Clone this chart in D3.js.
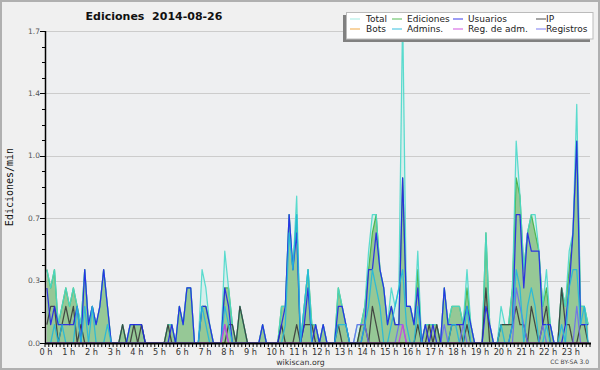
<!DOCTYPE html>
<html>
<head>
<meta charset="utf-8">
<script src="https://cdn.jsdelivr.net/npm/d3@7/dist/d3.min.js"></script>
<style>
  body { margin: 0; background: #f0f0f0; }
  svg { display: block; }
</style>
</head>
<body>
<script>
// Edits per minute, one value per 10-minute slot (6 per hour, 24 hours)
const hourLabels = d3.range(24).map(h => h + ' h');
const yTickValues = [0, 0.34, 0.68, 1.02, 1.36, 1.7];
const yTickLabels = ['0.0', '0.3', '0.7', '1.0', '1.4', '1.7'];

const total = [
  .4,.3,.4,.1,.2,.3,  .2,.3,.2,.1,.4,.1,  .2,.1,.2,.4,.2,0,   0,0,.1,0,.1,.1,
  .1,.1,0,0,0,0,      0,0,.1,.1,0,.2,     .1,.3,.3,0,0,.4,    .3,.1,0,0,0,.5,
  .3,.1,0,.2,.1,0,    0,0,0,.1,0,0,       0,0,.2,.2,.7,.4,    .8,0,.2,.4,.1,.1,
  0,.1,0,0,0,.3,      .2,.1,0,0,.1,.1,    .2,.5,.7,.7,.4,.3,  .1,.3,.2,.3,1.8,.2,
  .2,.1,.5,0,.1,.1,   .1,.1,0,.3,.1,.2,   .2,.2,.1,.4,.1,0,   0,0,.6,.1,0,0,
  .2,.1,.1,.3,1.1,.8, .4,.6,.7,.7,.5,.2,  .4,.1,0,0,.3,.2,    .5,.6,1.3,.2,.2,.1
];
const ediciones = [
  .4,.3,.4,.1,.2,.3,  .2,.3,.2,.1,.4,.1,  .2,.1,.2,.4,.2,0,   0,0,.1,0,.1,.1,
  .1,.1,0,0,0,0,      0,0,.1,.1,0,.2,     .1,.3,.3,0,0,.2,    .2,.1,0,0,0,.3,
  .3,.1,0,.2,.1,0,    0,0,0,.1,0,0,       0,0,.2,.2,.7,.4,    .7,0,.2,.4,.1,.1,
  0,.1,0,0,0,.3,      .2,.1,0,0,0,.1,     .2,.4,.6,.7,.4,.3,  .1,.2,.1,.1,.9,.2,
  .2,.1,.4,0,.1,.1,   .1,.1,0,.3,.1,.2,   .2,.2,.1,.3,.1,0,   0,0,.6,.1,0,0,
  .1,.1,.1,.3,.9,.8,  .4,.6,.7,.6,.5,.2,  .3,.1,0,0,.3,.2,    .4,.6,1.1,.2,.2,.1
];
const usuarios = [
  .3,.1,.2,.1,.1,.1,  .1,.1,.2,0,.4,.1,   .2,.1,.2,.4,.2,0,   0,0,0,0,.1,.1,
  .1,.1,0,0,0,0,      0,0,0,.1,0,.2,      .1,.3,.3,0,0,.2,    .2,.1,0,0,0,.3,
  .2,0,0,0,0,0,       0,0,0,.1,0,0,       0,0,.1,.2,.7,.4,    .6,0,.1,.3,0,.1,
  0,.1,0,0,0,.2,      .2,.1,0,0,0,0,      .1,.4,.4,.6,.4,.3,  .1,.2,.1,.1,.9,.2,
  .2,.1,.3,0,.1,0,    .1,0,0,.3,.1,.1,    .1,.1,.1,.2,.1,0,   0,0,.2,.1,0,0,
  0,0,0,.1,.7,.7,     .3,.6,.5,.5,.5,.1,  .1,.1,0,0,0,.1,     .3,.6,1.1,.1,.1,.1
];
const ip = [
  .1,.2,.2,0,.1,.2,   .1,.2,0,.1,0,0,     0,0,0,0,0,0,        0,0,.1,0,0,.1,
  0,.1,0,0,0,0,       0,0,.1,0,0,0,       0,0,0,0,0,0,        0,0,0,0,0,0,
  .1,.1,0,.2,.1,0,    0,0,0,0,0,0,        0,0,.1,0,0,0,       .1,0,.1,.1,.1,0,
  0,0,0,0,0,.1,       0,0,0,0,0,.1,       .1,0,.2,.1,0,0,     0,0,0,0,0,0,
  0,0,.1,0,0,.1,      0,.1,0,0,0,.1,      .1,.1,0,.1,0,0,     0,0,.3,0,0,0,
  .1,.1,.1,.1,.2,.1,  .1,0,.2,.1,0,.1,    .2,0,0,0,.3,.1,     .1,0,0,.1,.1,0
];
const bots = d3.range(144).map(() => 0);
const admins = [
  0,0,.1,0,.1,0,      0,0,.2,0,.2,0,      .2,0,0,0,.1,0,      0,0,0,0,0,0,
  0,0,0,0,0,0,        0,0,0,0,0,0,        0,0,0,0,0,.2,       .1,0,0,0,0,.2,
  .1,0,0,0,0,0,       0,0,0,0,0,0,        0,0,0,.1,.6,.4,     .7,0,.2,.4,0,0,
  0,0,0,0,0,.1,       .1,.1,0,0,0,0,      .1,.2,.4,.3,.2,0,   0,.1,.2,.3,.4,.1,
  0,0,.2,0,0,0,       0,0,0,0,0,.1,       .1,0,0,.2,0,0,      0,0,0,0,0,0,
  .1,0,0,.1,.4,.3,    0,.2,.3,.2,0,0,     .1,0,0,0,.1,0,      .3,.4,.4,.1,.2,0
];
const regAdm = [
  0,0,0,0,0,0,  0,0,0,0,0,0,  0,0,0,0,0,0,  0,0,0,0,0,0,
  0,0,0,0,0,0,  0,0,0,0,0,0,  0,0,0,0,0,0,  0,0,0,0,0,.1,
  0,0,0,0,0,0,  0,0,0,0,0,0,  0,0,0,0,0,0,  0,0,0,0,0,0,
  0,0,0,0,0,0,  0,0,0,0,0,0,  0,0,0,0,0,0,  0,0,0,0,.1,0,
  0,0,0,0,0,0,  0,0,0,0,0,0,  0,0,0,0,0,0,  0,0,0,0,0,0,
  0,0,0,0,0,0,  0,0,0,0,0,0,  0,0,0,0,0,0,  0,0,0,0,0,0
];
const registros = [
  0,0,0,0,0,0,  0,0,0,0,0,0,  0,0,0,0,0,0,  0,0,0,0,0,0,
  0,0,0,0,0,0,  0,0,0,0,0,0,  0,0,0,0,0,0,  0,0,0,0,0,.1,
  0,0,0,0,0,0,  0,0,0,0,0,0,  0,0,0,0,0,0,  0,0,0,0,0,0,
  0,0,0,0,0,0,  0,0,0,0,.1,.1,  .1,0,0,0,0,0,  0,0,0,.1,.1,0,
  0,0,0,0,0,0,  0,0,0,.1,0,0,  0,0,.1,0,0,0,  0,0,0,0,0,0,
  0,0,0,0,.3,.2,  .1,0,0,0,0,.1,  0,0,0,0,0,0,  0,0,.2,0,0,0
];

const W = 600, H = 370;
const margin = {top: 31, right: 10, bottom: 27, left: 45};
const x0 = margin.left, x1 = W - margin.right, y0 = H - margin.bottom, y1 = margin.top;

const svg = d3.select('body').append('svg')
    .attr('width', W)
    .attr('height', H)
    .style('font-family', '"DejaVu Sans", sans-serif');

// page background and frame
svg.append('rect').attr('x', 1).attr('y', 1).attr('width', W - 2).attr('height', H - 2)
    .attr('fill', '#f0f0f0').attr('stroke', '#b0b0b0').attr('stroke-width', 2);
svg.append('rect').attr('x', x0).attr('y', y1).attr('width', x1 - x0).attr('height', y0 - y1)
    .attr('fill', '#eeeff1');

// scales: time in minutes, each slot drawn at its middle
const x = d3.scaleLinear().domain([0, 1440]).range([x0, x1]);
const y = d3.scaleLinear().domain([0, 1.7]).range([y0, y1]);
const slotX = (d, i) => x(i * 10 + 5);

// grid
svg.append('g').selectAll('line').data(yTickValues.slice(1)).enter().append('line')
    .attr('x1', x0).attr('x2', x1)
    .attr('y1', d => Math.round(y(d)) + 0.5).attr('y2', d => Math.round(y(d)) + 0.5)
    .attr('stroke', '#cccccc').attr('stroke-width', 1);

// areas
const area = d3.area().x(slotX).y0(y0).y1(d => y(d));
svg.append('path').datum(total).attr('d', area)
    .attr('fill', '#c6ecea').attr('fill-opacity', 0.6);
svg.append('path').datum(ediciones).attr('d', area)
    .attr('fill', '#96c896');

const line = d3.line().x(slotX).y(d => y(d));
const series = [
  {name: 'Total', data: total, color: '#4ad8ca'},
  {name: 'Ediciones', data: ediciones, color: '#44b444'},
  {name: 'Usuarios', data: usuarios, color: '#2424e8'},
  {name: 'IP', data: ip, color: '#3a3a3a'},
  {name: 'Bots', data: bots, color: '#f0a030'},
  {name: 'Admins.', data: admins, color: '#22b8dc'},
  {name: 'Reg. de adm.', data: regAdm, color: '#cc44dd'},
  {name: 'Registros', data: registros, color: '#6e6ef0'}
];

const drawOrder = ['Bots', 'Ediciones', 'Total', 'IP', 'Registros', 'Usuarios', 'Admins.', 'Reg. de adm.'];
drawOrder.forEach(n => {
  const s = series.find(d => d.name === n);
  svg.append('path').datum(s.data).attr('d', line)
      .attr('fill', 'none').attr('stroke', s.color)
      .attr('stroke-width', 1.25).attr('stroke-opacity', 0.9)
      .attr('stroke-linejoin', 'round');
});

// x axis
const xAxis = svg.append('g');
xAxis.selectAll('line').data(d3.range(0, 1441, 10)).enter().append('line')
    .attr('x1', d => x(d)).attr('x2', d => x(d))
    .attr('y1', y0).attr('y2', y0 + 4)
    .attr('stroke', '#000').attr('stroke-width', 1);
xAxis.append('line').attr('x1', x0).attr('x2', x1 + 1).attr('y1', y0 + 0.5).attr('y2', y0 + 0.5)
    .attr('stroke', '#000').attr('stroke-width', 2);
xAxis.selectAll('text').data(hourLabels).enter().append('text')
    .attr('x', (d, i) => x(i * 60) - 5.5)
    .attr('y', y0 + 12)
    .attr('font-size', 8.2).attr('fill', '#333')
    .text(d => d);

// y axis
const yAxis = svg.append('g');
yAxis.append('line').attr('x1', x0 + 0.5).attr('x2', x0 + 0.5).attr('y1', y1).attr('y2', y0)
    .attr('stroke', '#000').attr('stroke-width', 1.5);
yAxis.selectAll('line.minor').data(d3.range(0, 21).map(i => i * 0.085)).enter().append('line')
    .attr('class', 'minor')
    .attr('x1', x0 - 3).attr('x2', x0)
    .attr('y1', d => Math.round(y(d)) + 0.5).attr('y2', d => Math.round(y(d)) + 0.5)
    .attr('stroke', '#000');
yAxis.selectAll('line.major').data(yTickValues).enter().append('line')
    .attr('class', 'major')
    .attr('x1', x0 - 5).attr('x2', x0)
    .attr('y1', d => Math.round(y(d)) + 0.5).attr('y2', d => Math.round(y(d)) + 0.5)
    .attr('stroke', '#000');
yAxis.selectAll('text').data(yTickValues).enter().append('text')
    .attr('x', x0 - 5).attr('y', d => y(d) + 2.5)
    .attr('text-anchor', 'end')
    .attr('font-size', 7.5).attr('fill', '#555')
    .text((d, i) => yTickLabels[i]);

svg.append('text')
    .attr('transform', 'translate(13,' + ((y0 + y1) / 2) + ') rotate(-90)')
    .attr('text-anchor', 'middle')
    .style('font-family', '"DejaVu Sans Mono", monospace')
    .attr('font-size', 10).attr('fill', '#111')
    .text('Ediciones/min');

// title and footer
svg.append('text').attr('x', 154).attr('y', 20)
    .attr('text-anchor', 'middle').attr('font-size', 11).attr('font-weight', 'bold')
    .attr('fill', '#111').attr('xml:space', 'preserve')
    .text('Ediciones  2014-08-26');
svg.append('text').attr('x', 300.5).attr('y', 365)
    .attr('text-anchor', 'middle').attr('font-size', 7.8).attr('fill', '#333')
    .text('wikiscan.org');
svg.append('text').attr('x', 589).attr('y', 364)
    .attr('text-anchor', 'end').attr('font-size', 6).attr('fill', '#444')
    .text('CC BY-SA 3.0');

// legend
const lg = svg.append('g');
lg.append('rect').attr('x', 343).attr('y', 15).attr('width', 247).attr('height', 27).attr('fill', '#808080');
lg.append('rect').attr('x', 346.5).attr('y', 12.5).attr('width', 246.5).attr('height', 26.5)
    .attr('fill', '#ffffff').attr('stroke', '#bbbbbb');
const colX = [350, 392, 453, 536];
const textX = [366, 407, 468, 546];
series.forEach((s, i) => {
  const c = i % 4, r = Math.floor(i / 4);
  const ly = 19 + r * 10;
  lg.append('line').attr('x1', colX[c]).attr('x2', colX[c] + 10)
      .attr('y1', ly).attr('y2', ly)
      .attr('stroke', s.color).attr('stroke-width', 1).attr('stroke-opacity', s.name === 'Total' ? 0.5 : 0.9);
  lg.append('text').attr('x', textX[c]).attr('y', ly + 3)
      .attr('font-size', 9).attr('fill', '#222')
      .text(s.name);
});
</script>
</body>
</html>
